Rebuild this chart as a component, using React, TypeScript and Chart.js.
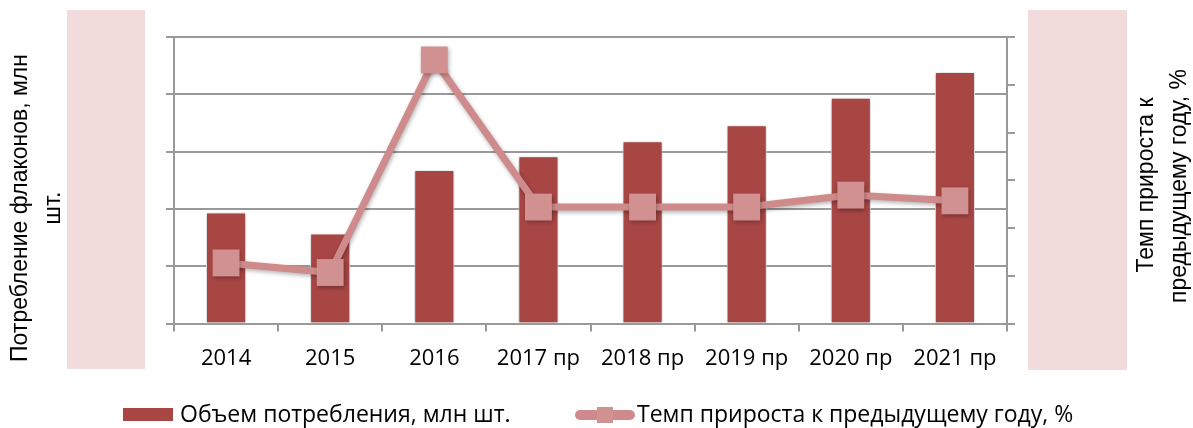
import React, { useEffect, useRef } from "react";
import { Chart, registerables } from "chart.js";

Chart.register(...registerables);

const categories = ["2014", "2015", "2016", "2017 пр", "2018 пр", "2019 пр", "2020 пр", "2021 пр"];
const consumption = [194, 157, 268, 292, 318, 346, 394, 439];
const growth = [-14.6, -18.6, 70.4, 8.8, 8.8, 8.8, 13.8, 11.4];

const leftAxis = { min: 0, max: 500, step: 100 };
const rightAxis = { min: -40, max: 80, step: 20 };

const barLabel = "Объем потребления, млн шт.";
const lineLabel = "Темп прироста к предыдущему году, %";
const leftTitle = ["Потребление флаконов, млн", "шт."];
const rightTitle = ["Темп прироста к", "предыдущему году, %"];

const BAR_COLOR = "#A84644";
const LINE_COLOR = "#CF8B8B";
const POINT_COLOR = "#D29191";
const PINK = "#F2DCDB";
const GRID = "#999999";

const decorPlugin = {
  id: "decor",
  beforeDraw(chart: any) {
    const ctx = chart.ctx;
    ctx.save();
    ctx.fillStyle = PINK;
    ctx.fillRect(67, 10, 78, 359);
    ctx.fillRect(1028, 10, 99, 360);
    ctx.restore();
  },
  beforeDatasetDraw(chart: any, args: any) {
    const ctx = chart.ctx;
    ctx.save();
    if (args.meta.type === "bar") {
      ctx.shadowColor = "rgba(0,0,0,0.35)";
      ctx.shadowBlur = 4;
      ctx.shadowOffsetX = 0;
      ctx.shadowOffsetY = 1;
    } else {
      ctx.shadowColor = "rgba(0,0,0,0.3)";
      ctx.shadowBlur = 4;
      ctx.shadowOffsetX = 1;
      ctx.shadowOffsetY = 2;
    }
  },
  afterDatasetDraw(chart: any) {
    chart.ctx.restore();
  },
  afterDraw(chart: any) {
    const ctx = chart.ctx;
    ctx.save();
    ctx.fillStyle = "#000";
    ctx.textAlign = "center";
    ctx.textBaseline = "middle";
    ctx.font = "23px 'Liberation Sans', Arial, sans-serif";
    const drawRot = (text: string, x: number, y: number) => {
      ctx.save();
      ctx.translate(x, y);
      ctx.rotate(-Math.PI / 2);
      ctx.fillText(text, 0, 0);
      ctx.restore();
    };
    drawRot(leftTitle[0], 21, 208);
    drawRot(leftTitle[1], 54, 208);
    drawRot(rightTitle[0], 1147, 185);
    drawRot(rightTitle[1], 1180, 186);

    // legend
    ctx.font = "23px 'Open Sans', sans-serif";
    ctx.textAlign = "left";
    ctx.fillStyle = BAR_COLOR;
    ctx.fillRect(123, 408, 50, 13);
    ctx.fillStyle = "#000";
    ctx.fillText(barLabel, 180, 415);

    ctx.strokeStyle = LINE_COLOR;
    ctx.lineWidth = 10;
    ctx.lineCap = "round";
    ctx.beginPath();
    ctx.moveTo(580, 415);
    ctx.lineTo(630, 415);
    ctx.stroke();
    ctx.fillStyle = POINT_COLOR;
    ctx.fillRect(597, 407, 16, 16);
    ctx.fillStyle = "#000";
    ctx.fillText(lineLabel, 637, 415);
    ctx.restore();
  },
};

export default function App() {
  const ref = useRef<HTMLCanvasElement>(null);
  useEffect(() => {
    if (!ref.current) return;
    const chart = new Chart(ref.current, {
      type: "bar",
      data: {
        labels: categories,
        datasets: [
          {
            type: "line",
            label: lineLabel,
            data: growth,
            yAxisID: "y1",
            borderColor: LINE_COLOR,
            borderWidth: 7,
            pointStyle: "rect",
            pointRadius: 19,
            pointHoverRadius: 19,
            pointBackgroundColor: POINT_COLOR,
            pointBorderColor: POINT_COLOR,
            pointBorderWidth: 0,
            tension: 0,
            order: 0,
            clip: false,
          } as any,
          {
            type: "bar",
            label: barLabel,
            data: consumption,
            yAxisID: "y",
            backgroundColor: BAR_COLOR,
            borderColor: "#ffffff",
            borderWidth: 1,
            barPercentage: 0.385,
            categoryPercentage: 1,
            order: 1,
          },
        ],
      },
      options: {
        responsive: false,
        animation: false,
        events: [],
        layout: { padding: { left: 166, right: 178, top: 37, bottom: 42 } },
        plugins: { legend: { display: false }, tooltip: { enabled: false } },
        scales: {
          x: {
            grid: { display: true, drawOnChartArea: false, drawTicks: true, tickLength: 8, color: GRID, lineWidth: 2, offset: true },
            border: { display: true, color: GRID, width: 2 },
            ticks: { color: "#000", font: { family: "'Open Sans', sans-serif", size: 22 }, padding: 14, maxRotation: 0, autoSkip: false },
          },
          y: {
            position: "left",
            min: leftAxis.min,
            max: leftAxis.max,
            ticks: { display: false, stepSize: leftAxis.step },
            grid: { color: GRID, lineWidth: 2, tickLength: 8 },
            border: { display: true, color: GRID, width: 2 },
          },
          y1: {
            position: "right",
            min: rightAxis.min,
            max: rightAxis.max,
            ticks: { display: false, stepSize: rightAxis.step },
            grid: { drawOnChartArea: false, color: GRID, lineWidth: 2, tickLength: 8 },
            border: { display: true, color: GRID, width: 2 },
          },
        },
      },
      plugins: [decorPlugin],
    });
    return () => chart.destroy();
  }, []);
  return (
    <div style={{ position: "absolute", left: 0, top: 0, width: 1193, height: 428, background: "#fff" }}>
      <canvas ref={ref} width={1193} height={428} />
    </div>
  );
}
